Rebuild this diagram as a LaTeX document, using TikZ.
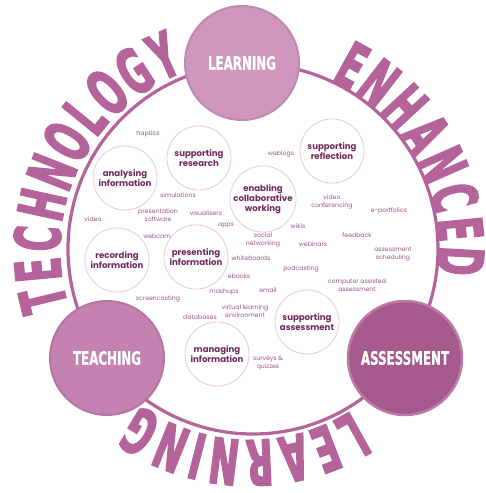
\documentclass[tikz,border=0pt]{standalone}
\usepackage{fontspec}
\setmainfont{Poppins}
\newfontfamily\bigfont[FakeStretch=0.55,FakeBold=2.2]{DejaVu Sans}
\newfontfamily\midfont[FakeStretch=0.64,FakeBold=0.6]{DejaVu Sans}
\definecolor{ringcol}{HTML}{B4649B}
\definecolor{learnfill}{HTML}{D096BE}
\definecolor{teachfill}{HTML}{C581AF}
\definecolor{assessfill}{HTML}{A65A8B}
\definecolor{assessrim}{HTML}{BE79A6}
\definecolor{circout}{HTML}{EBC6DD}
\definecolor{topiccol}{HTML}{6F2B60}
\definecolor{toolcol}{HTML}{A0528A}
\begin{document}
\begin{tikzpicture}[x=1pt,y=1pt,
  ringline/.style={draw=ringcol, line width=3.2pt},
  bigcirc/.style={circle, minimum size=114pt, inner sep=0pt, line width=2pt, text=white,
    font=\midfont\bfseries\fontsize{18.5}{18.5}\selectfont},
  topic/.style={circle, draw=circout, line width=0.8pt, minimum size=64pt, inner sep=0pt,
    align=center, text=topiccol, font=\fontsize{8.6}{10.2}\selectfont\bfseries},
  tool/.style={align=center, text=toolcol, font=\fontsize{6.2}{7.6}\selectfont, inner sep=0pt},
  bigletter/.style={text=ringcol, font=\bigfont\bfseries\fontsize{63}{63}\selectfont, inner sep=0pt, anchor=base}
]
\fill[white] (0,0) rectangle (485,-493);
\useasboundingbox (0,0) rectangle (485,-493);

% main ring
\coordinate (ctr) at (253,-249);
\draw[ringline] (ctr) circle (185);

% curved title letters
\begin{scope}[shift={(250,-250)}]
\foreach \l/\a [count=\i] in {T/193.5, E/185.4, C/176.9, H/167.65, N/158.5, O/149.3, L/140.8, O/132.2, G/123.0, Y/114.0}
  \node[bigletter, rotate=\a-90] (tech\i) at (\a:190) {\l};
\foreach \l/\a [count=\i] in {E/61, N/52.3, H/42.8, A/33.4, N/23.9, C/14.5, E/5.7, D/-3}
  \node[bigletter, rotate=\a-90] (enh\i) at (\a:188) {\l};
\foreach \l/\a [count=\i] in {L/-61, E/-69.1, A/-77.9, R/-87.4, N/-97.0, I/-104.4, N/-111.8, G/-121.3}
  \node[bigletter, rotate=\a-90] (lrn\i) at (\a:190) {\l};
\end{scope}

% big circles
\node[bigcirc, fill=learnfill, draw=learnfill!92!black] (learning) at (242,-63) {LEARNING};
\node[bigcirc, fill=teachfill, draw=teachfill!92!black] (teaching) at (107,-358) {TEACHING};
\node[bigcirc, fill=assessfill, draw=assessrim, line width=2.5pt] (assessment) at (405,-358) {ASSESSMENT};

% topic circles
\node[topic] (analysing) at (125,-178) {analysing\\information};
\node[topic] (research) at (199,-158) {supporting\\research};
\node[topic] (reflection) at (332,-151) {supporting\\reflection};
\node[topic] (collab) at (263,-199) {enabling\\collaborative\\working};
\node[topic] (recording) at (117,-260) {recording\\information};
\node[topic] (presenting) at (196,-257) {presenting\\information};
\node[topic] (suppassess) at (307,-322) {supporting\\assessment};
\node[topic] (managing) at (217,-354) {managing\\information};

% tools
\node[tool] (haptics) at (148,-134) {haptics};
\node[tool] (weblogs) at (281,-154) {weblogs};
\node[tool] (simulations) at (178,-195) {simulations};
\node[tool] (videoconf) at (332,-202) {video\\conferencing};
\node[tool] (eportfolios) at (389,-211) {e-portfolios};
\node[tool] (presentation) at (158,-215) {presentation\\software};
\node[tool] (video) at (93,-219) {video};
\node[tool] (visualisers) at (206,-213) {visualisers};
\node[tool] (apps) at (226,-226) {apps};
\node[tool] (wikis) at (298,-226) {wikis};
\node[tool] (webcam) at (157,-236) {webcam};
\node[tool] (feedback) at (357,-235) {feedback};
\node[tool] (social) at (263,-240) {social\\networking};
\node[tool] (webinars) at (313,-244) {webinars};
\node[tool] (scheduling) at (393,-254) {assessment\\scheduling};
\node[tool] (whiteboards) at (251,-258) {whiteboards};
\node[tool] (podcasting) at (301,-269) {podcasting};
\node[tool] (ebooks) at (239,-276) {ebooks};
\node[tool] (caa) at (357,-285) {computer assisted\\assessment};
\node[tool] (mashups) at (224,-292) {mashups};
\node[tool] (email) at (268,-290) {email};
\node[tool] (screencasting) at (158,-299) {screencasting};
\node[tool] (vle) at (245,-311) {virtual learning\\environment};
\node[tool] (databases) at (200,-317) {databases};
\node[tool] (surveys) at (268,-363) {surveys \&\\quizzes};
\end{tikzpicture}
\end{document}
